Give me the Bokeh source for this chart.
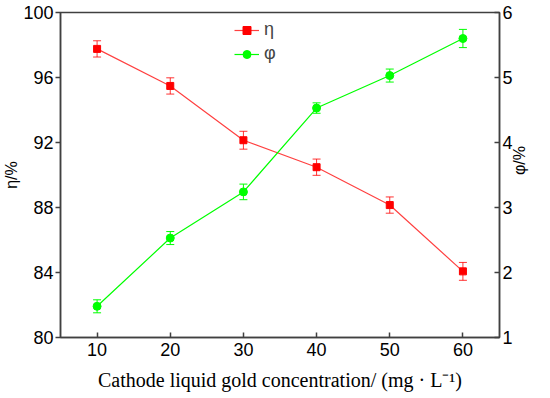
import math
from bokeh.plotting import figure
from bokeh.models import Range1d, LinearAxis, Whisker, ColumnDataSource, Legend, LegendItem, FixedTicker, TeeHead
from bokeh.embed import file_html
from bokeh.resources import INLINE

conc = [10, 20, 30, 40, 50, 60]
eta = [97.76, 95.48, 92.14, 90.48, 88.15, 84.07]
eta_err = [0.5, 0.5, 0.55, 0.5, 0.5, 0.55]
phi = [1.48, 2.53, 3.24, 4.53, 5.03, 5.60]
phi_err = [0.10, 0.10, 0.12, 0.08, 0.10, 0.14]

x_ticks = [10, 20, 30, 40, 50, 60]
eta_ticks = [80, 84, 88, 92, 96, 100]
phi_ticks = [1, 2, 3, 4, 5, 6]

RED = "#FF0000"
GREEN = "#00FF00"
AXC = "#404040"

src_eta = ColumnDataSource(dict(x=conc, y=eta, lo=[a - b for a, b in zip(eta, eta_err)], hi=[a + b for a, b in zip(eta, eta_err)]))
src_phi = ColumnDataSource(dict(x=conc, y=phi, lo=[a - b for a, b in zip(phi, phi_err)], hi=[a + b for a, b in zip(phi, phi_err)]))

p = figure(frame_width=439, frame_height=325, output_backend="svg", toolbar_location=None,
           x_range=Range1d(5, 65), y_range=Range1d(80, 100),
           min_border_left=55, min_border_right=40, min_border_top=12, min_border_bottom=48)
p.extra_y_ranges = {"phi": Range1d(1, 6)}
p.grid.visible = False
p.outline_line_color = AXC
p.outline_line_width = 1.5
p.background_fill_color = "white"
p.border_fill_color = "white"

# eta series
l1 = p.line("x", "y", source=src_eta, line_color=RED, line_width=1.2, line_alpha=0.75)
s1 = p.scatter("x", "y", source=src_eta, marker="square", size=7, fill_color=RED, line_color=RED)
w1 = Whisker(base="x", lower="lo", upper="hi", source=src_eta, line_color=RED, line_alpha=0.8,
             upper_head=TeeHead(size=8, line_color=RED, line_alpha=0.8), lower_head=TeeHead(size=8, line_color=RED, line_alpha=0.8))
p.add_layout(w1)

# phi series
l2 = p.line("x", "y", source=src_phi, line_color=GREEN, line_width=1.2, y_range_name="phi")
s2 = p.scatter("x", "y", source=src_phi, marker="circle", size=8, fill_color=GREEN, line_color=GREEN, y_range_name="phi")
w2 = Whisker(base="x", lower="lo", upper="hi", source=src_phi, line_color=GREEN, y_range_name="phi",
             upper_head=TeeHead(size=8, line_color=GREEN), lower_head=TeeHead(size=8, line_color=GREEN))
p.add_layout(w2)

def style(ax):
    ax.axis_line_color = AXC
    ax.axis_line_width = 1.5
    ax.major_tick_line_color = AXC
    ax.major_tick_line_width = 1.5
    ax.minor_tick_line_color = None
    ax.major_label_text_font = "Liberation Sans"
    ax.major_label_text_font_size = "18px"
    ax.major_label_text_color = "black"
    ax.axis_label_text_font_style = "normal"
    ax.axis_label_text_color = "black"

xa = p.xaxis[0]
style(xa)
xa.ticker = FixedTicker(ticks=x_ticks)
xa.major_tick_in = 5
xa.major_tick_out = 0
xa.major_label_standoff = 5
xa.axis_label = "Cathode liquid gold concentration/ (mg · L⁻¹)"
xa.axis_label_text_font = "Liberation Serif"
xa.axis_label_text_font_size = "20px"
xa.axis_label_standoff = 10

ya = p.yaxis[0]
style(ya)
ya.ticker = FixedTicker(ticks=eta_ticks)
ya.major_tick_in = 0
ya.major_tick_out = 5
ya.major_label_standoff = 2
ya.axis_label = "η/%"
ya.axis_label_text_font = "Liberation Sans"
ya.axis_label_text_font_size = "16px"
ya.axis_label_standoff = 0

ra = LinearAxis(y_range_name="phi", ticker=FixedTicker(ticks=phi_ticks))
style(ra)
ra.major_tick_in = 5
ra.major_tick_out = 0
ra.major_label_standoff = 3
ra.axis_label = "φ/%"
ra.axis_label_text_font = "Liberation Sans"
ra.axis_label_text_font_size = "16px"
ra.axis_label_standoff = 4
ra.axis_label_orientation = math.pi / 2
p.add_layout(ra, "right")

legend = Legend(items=[LegendItem(label="η", renderers=[l1, s1]),
                       LegendItem(label="φ", renderers=[l2, s2])],
                location=(174, 273), orientation="vertical",
                border_line_color=None, background_fill_alpha=0,
                padding=0, margin=0, spacing=3,
                glyph_width=25, glyph_height=20, label_height=20,
                label_text_font="Liberation Sans", label_text_font_size="18px",
                label_standoff=5)
p.add_layout(legend, "center")

open("out.html", "w").write(file_html(p, INLINE))
